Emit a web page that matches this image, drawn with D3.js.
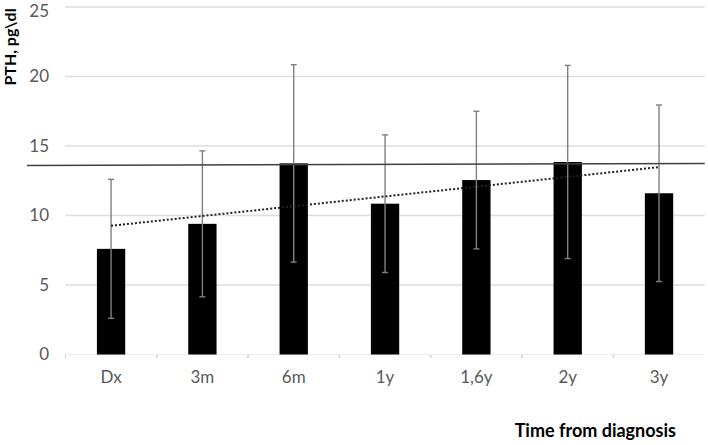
<!DOCTYPE html>
<html>
<head>
<meta charset="utf-8">
<script src="https://cdn.jsdelivr.net/npm/d3@7"></script>
<style>
  body { margin: 0; background: #fff; }
  text { font-family: Lato, "Open Sans", sans-serif; }
</style>
</head>
<body>
<div id="chart"></div>
<script>
// data
const categories = ["Dx", "3m", "6m", "1y", "1,6y", "2y", "3y"];
const means = [7.6, 9.4, 13.75, 10.85, 12.55, 13.85, 11.6];
const sds = [5.0, 5.25, 7.1, 4.95, 4.95, 6.95, 6.35];
const yTicks = [0, 5, 10, 15, 20, 25];
const refLine = [13.6, 13.75]; // solid reference line, left end / right end

const width = 708, height = 445;
const plotLeft = 65.4, plotRight = 704.7, plotTop = 7, plotBottom = 354.5;

let svg = d3.select("#chart").append("svg")
    .attr("width", width)
    .attr("height", height);

let x = d3.scaleBand().domain(categories).range([plotLeft, plotRight])
    .paddingInner(0.69).paddingOuter(0.345);
let y = d3.scaleLinear().domain([0, 25]).range([plotBottom, plotTop]);

// gridlines
svg.selectAll(".grid")
    .data(yTicks.filter(d => d > 0))
    .enter().append("line")
    .attr("x1", plotLeft).attr("x2", plotRight)
    .attr("y1", d => y(d)).attr("y2", d => y(d))
    .attr("stroke", "#dedede")
    .attr("stroke-width", 1.3);

// faint baseline + small ticks between categories
svg.append("line")
    .attr("x1", plotLeft).attr("x2", plotRight)
    .attr("y1", y(0)).attr("y2", y(0))
    .attr("stroke", "#ececec").attr("stroke-width", 1);
svg.append("line")
    .attr("x1", plotLeft).attr("x2", plotLeft)
    .attr("y1", y(0)).attr("y2", y(0) + 4)
    .attr("stroke", "#d0d0d0").attr("stroke-width", 1);
svg.selectAll(".tick-dot")
    .data(categories.slice(1))
    .enter().append("rect")
    .attr("x", d => x(d) - x.step() * 0.69 / 2 - 1)
    .attr("y", y(0) + 1)
    .attr("width", 2).attr("height", 2)
    .attr("fill", "#c8c8c8");

// y tick labels (top one kept inside the picture)
svg.selectAll(".ylab")
    .data(yTicks)
    .enter().append("text")
    .attr("x", 49)
    .attr("y", d => Math.max(y(d), 11))
    .attr("dy", "0.35em")
    .attr("text-anchor", "end")
    .attr("fill", "#595959")
    .style("font-size", "17px")
    .text(d => d);

// bars
svg.selectAll(".bar")
    .data(means)
    .enter().append("rect")
    .attr("x", (d, i) => x(categories[i]))
    .attr("y", d => y(d))
    .attr("width", x.bandwidth())
    .attr("height", d => y(0) - y(d))
    .attr("fill", "#000");

// error bars
let cx = i => x(categories[i]) + x.bandwidth() / 2;
let err = svg.selectAll(".err")
    .data(means)
    .enter().append("g")
    .attr("stroke", "#808080")
    .attr("stroke-width", 1.4);
err.append("line")
    .attr("x1", (d, i) => cx(i)).attr("x2", (d, i) => cx(i))
    .attr("y1", (d, i) => y(d + sds[i])).attr("y2", (d, i) => y(d - sds[i]));
err.append("line")
    .attr("x1", (d, i) => cx(i) - 3).attr("x2", (d, i) => cx(i) + 3)
    .attr("y1", (d, i) => y(d + sds[i])).attr("y2", (d, i) => y(d + sds[i]));
err.append("line")
    .attr("x1", (d, i) => cx(i) - 3).attr("x2", (d, i) => cx(i) + 3)
    .attr("y1", (d, i) => y(d - sds[i])).attr("y2", (d, i) => y(d - sds[i]));

// linear trend of the means (dotted)
let n = means.length;
let mx = d3.mean(d3.range(n)), my = d3.mean(means);
let slope = d3.sum(d3.range(n), i => (i - mx) * (means[i] - my)) /
            d3.sum(d3.range(n), i => (i - mx) * (i - mx));
let icpt = my - slope * mx;
svg.append("line")
    .attr("x1", cx(0)).attr("x2", cx(n - 1))
    .attr("y1", y(icpt)).attr("y2", y(icpt + slope * (n - 1)))
    .attr("stroke", "#222")
    .attr("stroke-width", 2)
    .attr("stroke-dasharray", "2,2");

// solid reference line
svg.append("line")
    .attr("x1", 27).attr("x2", plotRight)
    .attr("y1", y(refLine[0])).attr("y2", y(refLine[1]))
    .attr("stroke", "#404040")
    .attr("stroke-width", 1.5);

// category labels
svg.selectAll(".xlab")
    .data(categories)
    .enter().append("text")
    .attr("x", d => x(d) + x.bandwidth() / 2)
    .attr("y", 383)
    .attr("text-anchor", "middle")
    .attr("fill", "#595959")
    .style("font-size", "17px")
    .text(d => d);

// axis titles
svg.append("text")
    .attr("transform", "translate(16,47) rotate(-90)")
    .attr("text-anchor", "middle")
    .attr("fill", "#000")
    .style("font-size", "16px")
    .style("font-weight", "bold")
    .text("PTH, pg\\dl");

svg.append("text")
    .attr("x", 676)
    .attr("y", 437)
    .attr("text-anchor", "end")
    .attr("fill", "#000")
    .style("font-size", "18px")
    .style("font-weight", "bold")
    .text("Time from diagnosis");
</script>
</body>
</html>
